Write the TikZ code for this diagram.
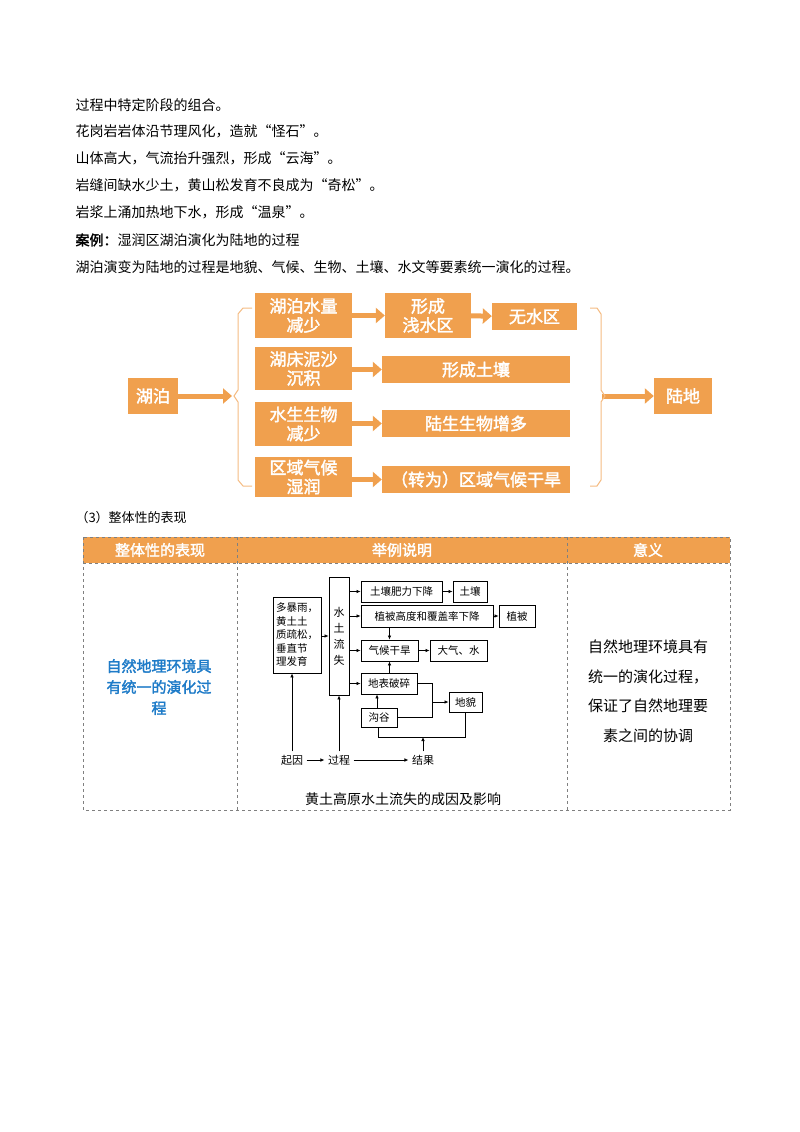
\documentclass[tikz,border=0pt]{standalone}
\usepackage{fontspec}
\setmainfont{Noto Sans CJK SC}
\newfontfamily\cjkb[FakeBold=2]{Noto Sans CJK SC}
\usetikzlibrary{arrows.meta}
\definecolor{org}{HTML}{F0A04E}
\definecolor{blu}{HTML}{1E7BC8}
\tikzset{
 ob/.style={fill=org,draw=none,text=white,font=\fontsize{17}{19}\selectfont\cjkb,align=center,inner sep=0pt},
 oarr/.style={org,line width=5pt,-{Triangle[length=9pt,width=15pt]}},
 brace/.style={org!70,line width=1pt},
 line/.style={font=\fontsize{14}{16}\selectfont,anchor=west},
 sb/.style={draw,line width=0.8pt,font=\fontsize{10.5}{13.5}\selectfont,inner sep=0pt,align=center},
 sa/.style={line width=0.7pt,-{Latex[length=4pt,width=3.5pt]}},
 sl/.style={line width=0.7pt},
 tb/.style={gray,dashed,line width=0.5pt}
}
\begin{document}
\begin{tikzpicture}[x=1pt,y=-1pt]
\useasboundingbox (0,0) rectangle (800,1132);
\fill[white] (0,0) rectangle (800,1132);
% text lines
\node[line] (t1) at (72,105) {过程中特定阶段的组合。};
\node[line] (t2) at (72,131) {花岗岩岩体沿节理风化，造就“怪石”。};
\node[line] (t3) at (72,158) {山体高大，气流抬升强烈，形成“云海”。};
\node[line] (t4) at (72,185) {岩缝间缺水少土，黄山松发育不良成为“奇松”。};
\node[line] (t5) at (72,212) {岩浆上涌加热地下水，形成“温泉”。};
\node[line] (t6) at (72,240) {{\cjkb 案例：}湿润区湖泊演化为陆地的过程};
\node[line] (t7) at (72,267) {湖泊演变为陆地的过程是地貌、气候、生物、土壤、水文等要素统一演化的过程。};
% orange flow
\node[ob,minimum width=50,minimum height=36] (hp) at (153,396) {湖泊};
\node[ob,minimum width=58,minimum height=36] (ld) at (683,396) {陆地};
\node[ob,minimum width=97,minimum height=45] (a1) at (303.5,315.5) {湖泊水量\\减少};
\node[ob,minimum width=97,minimum height=43] (a2) at (303.5,368.5) {湖床泥沙\\沉积};
\node[ob,minimum width=97,minimum height=44] (a3) at (303.5,424) {水生生物\\减少};
\node[ob,minimum width=97,minimum height=40] (a4) at (303.5,477) {区域气候\\湿润};
\node[ob,minimum width=86,minimum height=45] (b1) at (428,315.5) {形成\\浅水区};
\node[ob,minimum width=85,minimum height=27] (c1) at (534.5,316.5) {无水区};
\node[ob,minimum width=188,minimum height=27] (b2) at (476,369.5) {形成土壤};
\node[ob,minimum width=188,minimum height=27] (b3) at (476,423.5) {陆生生物增多};
\node[ob,minimum width=188,minimum height=27] (b4) at (476,479.5) {（转为）区域气候干旱};
\coordinate (bl) at (232,396);
\coordinate (br) at (602,396);
\draw[oarr] (hp) -- (bl);
\draw[oarr] (br) -- (ld);
\draw[oarr] (a1) -- (b1);
\draw[oarr] (b1) -- (c1);
\draw[oarr] (a2.east|-b2) -- (b2);
\draw[oarr] (a3.east|-b3) -- (b3);
\draw[oarr] (a4.east|-b4) -- (b4);
\draw[brace] (252,308) -- (243,308) -- (238,314) -- (238,390) -- (234,396) -- (238,402) -- (238,480) -- (243,486) -- (252,486);
\draw[brace] (590,308) -- (597,308) -- (601,314) -- (601,390) -- (605,396) -- (601,402) -- (601,480) -- (597,486) -- (590,486);
% table
\node[font=\fontsize{13}{15}\selectfont,anchor=west] (t8) at (72,518) {（3）整体性的表现};
\fill[org] (83,537) rectangle (730,563);
\draw[tb] (83,537) rectangle (730,810);
\draw[tb] (83,563) -- (730,563);
\draw[tb] (237,537) -- (237,810);
\draw[tb] (567,537) -- (567,810);
\node[font=\fontsize{15}{17}\selectfont\cjkb,text=white] (h1) at (160,550) {整体性的表现};
\node[font=\fontsize{15}{17}\selectfont\cjkb,text=white] (h2) at (402,550) {举例说明};
\node[font=\fontsize{15}{17}\selectfont\cjkb,text=white] (h3) at (648,550) {意义};
\node[font=\fontsize{15}{21}\selectfont\cjkb,text=blu,align=center] (c1t) at (159,687) {自然地理环境具\\有统一的演化过\\程};
\node[font=\fontsize{15}{29.5}\selectfont,align=center] (c3t) at (648,691) {自然地理环境具有\\统一的演化过程，\\保证了自然地理要\\素之间的协调};
\node[font=\fontsize{14}{16}\selectfont] (cap) at (403,799) {黄土高原水土流失的成因及影响};
% small diagram
\node[sb,minimum width=48,minimum height=76,align=left] (q) at (297,635) {多暴雨，\\黄土土\\质疏松，\\垂直节\\理发育};
\node[sb,minimum width=20,minimum height=118,font=\fontsize{11}{16}\selectfont] (sl) at (339,636) {水\\土\\流\\失};
\node[sb,minimum width=81,minimum height=21] (s1) at (401.5,591.5) {土壤肥力下降};
\node[sb,minimum width=34,minimum height=21] (s2) at (470,591.5) {土壤};
\node[sb,minimum width=132,minimum height=22] (s3) at (427,616) {植被高度和覆盖率下降};
\node[sb,minimum width=36,minimum height=22] (s4) at (517,616) {植被};
\node[sb,minimum width=57,minimum height=21] (s5) at (389.5,650.5) {气候干旱};
\node[sb,minimum width=57,minimum height=21] (s6) at (458.5,650.5) {大气、水};
\node[sb,minimum width=56,minimum height=21] (s7) at (389,683.5) {地表破碎};
\node[sb,minimum width=33,minimum height=20] (s8) at (465.5,702) {地貌};
\node[sb,minimum width=36,minimum height=19] (s9) at (379,717.5) {沟谷};
\node[font=\fontsize{11}{12}\selectfont] (k1) at (292,760) {起因};
\node[font=\fontsize{11}{12}\selectfont] (k2) at (339,760) {过程};
\node[font=\fontsize{11}{12}\selectfont] (k3) at (423,760) {结果};
\draw[sa] (k1) -- (k2);
\draw[sa] (k2) -- (k3);
\draw[sa] (k1) -- (q.south-|k1);
\draw[sa] (k2) -- (sl);
\draw[sa] (q.east|-sl) -- (sl);
\foreach \b in {s1,s3,s5,s7} \draw[sa] (sl.east|-\b) -- (\b);
\draw[sa] (s1) -- (s2);
\draw[sa] (s3) -- (s4);
\draw[sa] (s5) -- (s6);
\draw[sa] (s3.south-|s5) -- (s5);
\draw[sa] (s7.north-|s5) -- (s5.south);
\draw[sa] (s9.north-|377,0) -- (s7.south-|377,0);
\coordinate (j) at (432,702);
\draw[sl] (s7.east) -- (432,683.5) -- (432,717.5) -- (s9.east);
\draw[sa] (j) -- (s8);
\coordinate (m) at (423,737);
\draw[sl] (s9.south-|378,0) -- (378,737) -- (465.5,737) -- (s8.south);
\draw[sa] (k3) -- (m);
\end{tikzpicture}
\end{document}
